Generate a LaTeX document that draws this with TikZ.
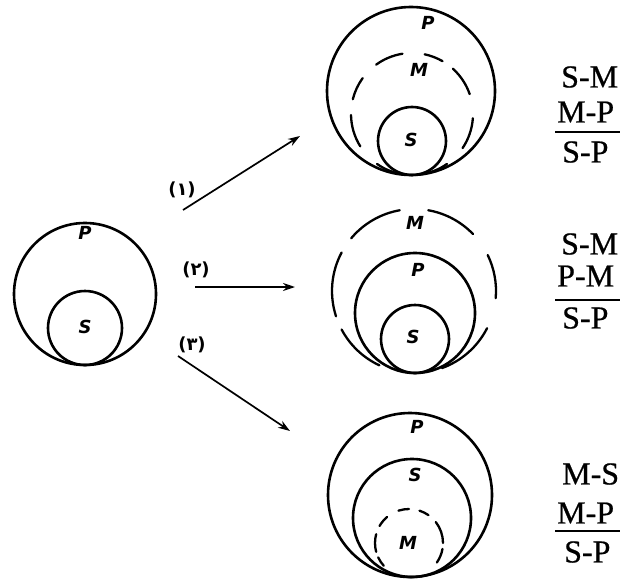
\documentclass[tikz,border=0pt]{standalone}
\usepackage{fontspec}
\setmainfont{Liberation Serif}[FakeBold=0.6]
\newfontfamily\persfont[Script=Arabic]{DejaVu Sans}
\newfontfamily\handfont{DejaVu Sans}
\usetikzlibrary{arrows.meta}
\newcommand\mdash[5]{\draw[marc] ([shift={(#3:#5)}]#1,#2) arc (#3:#4:#5);}
\begin{document}
\begin{tikzpicture}[x=1pt,y=1pt,
  ring/.style={line width=2.6pt},
  marc/.style={line width=2.3pt, line cap=round},
  lab/.style={font=\handfont\bfseries\itshape\fontsize{18}{18}\selectfont, inner sep=0pt},
  num/.style={font=\persfont\bfseries\fontsize{18}{18}\selectfont, inner sep=0pt},
  syl/.style={font=\fontsize{32}{32}\selectfont, anchor=west, inner sep=0pt},
  arr/.style={line width=1.7pt, -{Stealth[length=12pt,width=8pt]}}]
\useasboundingbox (0,0) rectangle (620,-580);

% ---------- left diagram ----------
\draw[ring] (85,-294) circle (71);
\draw[ring] (85,-328) circle (37);
\node[lab] (lP) at (85,-233) {P};
\node[lab] (lS) at (85,-327) {S};

% ---------- arrows ----------
\coordinate (a1s) at (183,-210); \coordinate (a1e) at (300,-136);
\coordinate (a2s) at (195,-287); \coordinate (a2e) at (295,-287);
\coordinate (a3s) at (178,-356); \coordinate (a3e) at (290,-431);
\draw[arr] (a1s) -- (a1e);
\draw[arr] (a2s) -- (a2e);
\draw[arr] (a3s) -- (a3e);
\node[num] (n1) at (182,-190) {(۱)};
\node[num] (n2) at (196,-270) {(۲)};
\node[num] (n3) at (192,-345) {(۳)};

% ---------- top diagram ----------
\draw[ring] (411,-91) circle (84);
\draw[ring] (412,-141) circle (34);
\mdash{412}{-114}{99}{126}{61}
\mdash{412}{-114}{60}{78}{61}
\mdash{412}{-114}{144}{166}{61}
\mdash{412}{-114}{19}{48}{61}
\mdash{412}{-114}{181}{212}{61}
\mdash{412}{-114}{-34}{-4}{61}
\mdash{412}{-114}{235}{262}{61}
\mdash{412}{-114}{278}{305}{61}
\node[lab] (tP) at (428,-23) {P};
\node[lab] (tM) at (419,-70) {M};
\node[lab] (tS) at (411,-140) {S};
\node[syl] (t1) at (561,-77) {S-M};
\node[syl] (t2) at (557,-112) {M-P};
\node[syl] (t3) at (562,-152) {S-P};
\draw[line width=1.5pt] (555,-132) -- (620,-132);

% ---------- middle diagram ----------
\draw[ring] (415,-313) circle (60);
\draw[ring] (415,-339) circle (34);
\mdash{414}{-291}{100}{140}{82}
\mdash{414}{-291}{44}{80}{82}
\mdash{414}{-291}{152}{198}{82}
\mdash{414}{-291}{-5}{26}{82}
\mdash{414}{-291}{208}{245}{82}
\mdash{414}{-291}{-70}{-27}{82}
\node[lab] (mM) at (415,-223) {M};
\node[lab] (mP) at (418,-270) {P};
\node[lab] (mS) at (413,-337) {S};
\node[syl] (m1) at (561,-244) {S-M};
\node[syl] (m2) at (557,-276) {P-M};
\node[syl] (m3) at (562,-318) {S-P};
\draw[line width=1.5pt] (555,-300) -- (620,-300);

% ---------- bottom diagram ----------
\draw[ring] (410,-495) circle (82);
\draw[ring] (412,-518) circle (59);
\mdash{409}{-543}{90}{108}{34}
\mdash{409}{-543}{55}{72}{34}
\mdash{409}{-543}{130}{150}{34}
\mdash{409}{-543}{165}{195}{34}
\mdash{409}{-543}{0}{38}{34}
\mdash{409}{-543}{205}{222}{34}
\mdash{409}{-543}{-35}{-10}{34}
\node[lab] (bP) at (417,-427) {P};
\node[lab] (bS) at (415,-475) {S};
\node[lab] (bM) at (408,-543) {M};
\node[syl] (b1) at (562,-474) {M-S};
\node[syl] (b2) at (557,-513) {M-P};
\node[syl] (b3) at (564,-552) {S-P};
\draw[line width=1.5pt] (555,-531) -- (620,-531);
\end{tikzpicture}
\end{document}
